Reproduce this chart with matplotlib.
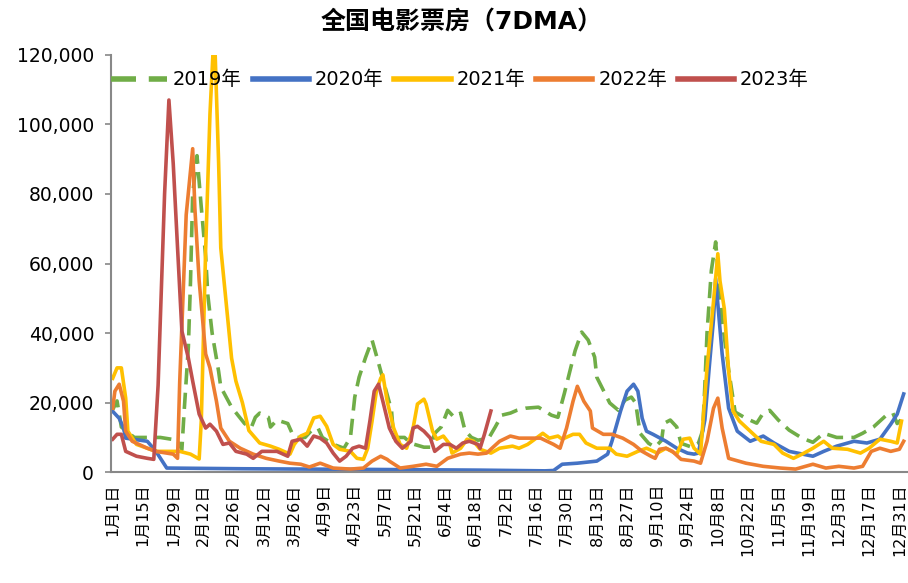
import matplotlib
matplotlib.use("Agg")
import matplotlib.pyplot as plt

plt.rcParams['font.family'] = ['DejaVu Sans', 'Noto Sans CJK SC']

# day index (0 = 1月1日) and 7DMA box office values
days_2019 = [0, 2, 4, 7, 10, 16, 22, 30, 32, 33, 35, 36, 37, 39, 41, 43, 44, 46, 49, 50,
             55, 61, 64, 66, 68, 70, 72, 73, 76, 79, 81, 83, 85, 89, 92, 95, 97, 99, 103, 107,
             110, 112, 114, 117, 120, 123, 126, 129, 130, 135, 138, 144, 147, 149, 152, 155, 158, 161, 163, 166,
             169, 174, 177, 180, 184, 187, 191, 197, 203, 206, 209, 212, 214, 217, 220, 223, 224, 227, 230, 234,
             237, 240, 242, 244, 248, 251, 254, 255, 258, 261, 263, 268, 271, 273, 274, 275, 277, 279, 282, 285,
             288, 293, 298, 301, 304, 308, 313, 319, 324, 329, 335, 343, 347, 352, 358, 361, 363, 366]
vals_2019 = [18000, 20500, 13000, 11500, 10000, 10000, 10000, 9200, 6500, 17000, 36000, 55000, 80000, 91000, 76000, 62000, 51000, 40000, 29000, 24500,
             18700, 14000, 12700, 15800, 17000, 16400, 15800, 13000, 15000, 14400, 14000, 11200, 10000, 10000, 12000, 12700, 10000, 9200, 7800, 6900,
             10000, 21600, 27300, 33000, 38000, 31400, 24500, 17800, 10000, 10000, 8300, 7200, 7200, 11200, 13000, 17800, 15800, 17000, 12000, 10000,
             9200, 9800, 13000, 16400, 17000, 17800, 18400, 18700, 16400, 15800, 22700, 30200, 35000, 40300, 38000, 33100, 27300, 23600, 19900, 17800,
             20700, 21600, 19900, 11200, 8300, 7200, 9200, 14000, 15000, 13000, 8300, 7200, 8300, 12000, 25000, 40000, 58000, 66200, 43700, 29400,
             17300, 15500, 14100, 17000, 17800, 15000, 12100, 9800, 8600, 11200, 10000, 10000, 11200, 13000, 16400, 17000, 14000, 15800]

days_2020 = [0, 3, 5, 6, 16, 20, 25, 60, 120, 170, 200, 204, 208, 215, 224, 229, 231, 235, 238, 241,
             243, 245, 247, 250, 256, 261, 266, 269, 271, 274, 276, 278, 279, 282, 285, 289, 295, 301, 306, 313,
             324, 329, 335, 343, 349, 355, 360, 363, 366]
vals_2020 = [17500, 15500, 12700, 9800, 8900, 6000, 1200, 1000, 800, 600, 400, 500, 2300, 2600, 3200, 5200, 8900, 17600, 23300, 25300,
             23300, 15500, 11800, 10900, 8900, 6900, 5500, 5200, 5500, 15000, 30000, 44000, 55600, 34000, 18400, 11800, 8900, 10400, 8400, 6000,
             4600, 6000, 7500, 8900, 8400, 9500, 13800, 16700, 22500]

days_2021 = [0, 2, 4, 6, 7, 11, 20, 31, 36, 40, 41, 43, 45, 47, 49, 50, 53, 55, 57, 60,
             63, 68, 73, 77, 82, 84, 87, 90, 93, 96, 99, 102, 105, 110, 113, 116, 118, 120, 122, 124,
             125, 127, 130, 133, 136, 139, 141, 144, 145, 148, 150, 153, 156, 157, 161, 164, 167, 170, 175, 179,
             185, 188, 192, 194, 199, 202, 206, 208, 213, 216, 219, 224, 230, 233, 238, 243, 247, 252, 256, 261,
             264, 267, 269, 272, 275, 278, 280, 281, 283, 285, 287, 290, 295, 300, 306, 310, 315, 319, 324, 329,
             333, 340, 346, 350, 355, 360, 363, 365]
vals_2021 = [27000, 30000, 30000, 21300, 11800, 8000, 6000, 6000, 5200, 3800, 15000, 64000, 103000, 128000, 89000, 64500, 45500, 32800, 26200, 20000,
             12000, 8400, 7500, 6600, 5200, 8000, 10400, 11200, 15600, 16100, 13200, 8000, 6600, 6000, 4000, 3700, 6900, 14700, 23300, 27000,
             28000, 20400, 12700, 8000, 6900, 12700, 19600, 21000, 19600, 11800, 9500, 10400, 8000, 5500, 6900, 9500, 8900, 6600, 5500, 6900,
             7500, 6900, 8000, 8900, 11200, 9800, 10400, 9500, 10900, 10900, 8400, 6900, 6900, 5200, 4600, 6000, 6900, 5500, 6900, 5200,
             9500, 9800, 6900, 5200, 30000, 49000, 62800, 55000, 47000, 29000, 17600, 14700, 11800, 8900, 8000, 5500, 4000, 5200, 6900, 8900,
             6900, 6600, 5500, 6900, 9500, 8900, 8400, 14700]

days_2022 = [0, 1, 3, 5, 6, 9, 16, 20, 28, 30, 31, 34, 37, 38, 40, 43, 45, 48, 50, 54,
             59, 65, 71, 77, 82, 87, 91, 96, 102, 110, 116, 120, 124, 127, 128, 133, 139, 145, 150, 155,
             161, 165, 169, 173, 179, 184, 188, 193, 198, 204, 207, 210, 213, 215, 218, 221, 222, 227, 231, 236,
             241, 245, 249, 251, 253, 256, 259, 263, 269, 272, 275, 278, 280, 282, 285, 293, 301, 309, 316, 324,
             330, 336, 343, 347, 351, 355, 360, 364, 366]
vals_2022 = [18400, 23300, 25300, 20400, 11800, 8900, 6900, 6000, 5200, 4000, 26000, 74000, 93000, 76000, 55000, 34000, 30000, 20400, 12700, 8900,
             6900, 5200, 4000, 3200, 2600, 2300, 1500, 2600, 1200, 900, 1200, 3200, 4600, 3700, 3200, 1200, 1700, 2300, 1700, 4000,
             5200, 5500, 5200, 5500, 8900, 10400, 9800, 9800, 9800, 8000, 6900, 12700, 20400, 24700, 20400, 17600, 12700, 10900, 10900, 9800,
             8000, 6000, 4600, 4000, 6600, 6900, 6000, 3700, 3200, 2600, 8900, 18400, 21300, 12700, 4000, 2600, 1700, 1200, 900, 2300,
             1200, 1700, 1200, 1700, 6000, 6900, 6000, 6600, 8900]

days_2023 = [0, 2, 4, 6, 11, 16, 19, 21, 24, 26, 28, 30, 32, 35, 37, 40, 43, 45, 48, 51,
             54, 57, 62, 65, 69, 76, 81, 83, 87, 90, 93, 96, 99, 102, 105, 108, 111, 114, 117, 119,
             121, 123, 125, 128, 131, 134, 138, 139, 141, 144, 147, 149, 153, 156, 159, 162, 165, 169, 170, 172,
             175]
vals_2023 = [9500, 10900, 10900, 6000, 4600, 4000, 3700, 25000, 80000, 107000, 88700, 64500, 40600, 32800, 26200, 16700, 12700, 13800, 11800, 8000,
             8400, 6000, 5200, 4000, 6000, 6000, 4600, 8900, 9500, 7500, 10400, 9800, 8400, 5500, 3200, 4600, 6900, 7500, 6900, 14700,
             23300, 25300, 20400, 12700, 8900, 6900, 8900, 12700, 13200, 11800, 9800, 6000, 8000, 8000, 6900, 8400, 8900, 8000, 6900, 10900,
             17600]

tick_days = list(range(0, 365, 14))
tick_labels = ['1月1日', '1月15日', '1月29日', '2月12日', '2月26日', '3月12日', '3月26日',
               '4月9日', '4月23日', '5月7日', '5月21日', '6月4日', '6月18日', '7月2日',
               '7月16日', '7月30日', '8月13日', '8月27日', '9月10日', '9月24日', '10月8日',
               '10月22日', '11月5日', '11月19日', '12月3日', '12月17日', '12月31日']

fig = plt.figure(figsize=(9.08, 5.83), dpi=100)
ax = fig.add_axes([0.122, 0.19, 0.878, 0.716])

lw = 2.6
ax.plot(days_2019, vals_2019, color='#70AD47', lw=lw, linestyle=(0, (4.5, 2.3)), label='2019年')
ax.plot(days_2020, vals_2020, color='#4472C4', lw=lw, label='2020年')
ax.plot(days_2021, vals_2021, color='#FFC000', lw=lw, label='2021年')
ax.plot(days_2022, vals_2022, color='#ED7D31', lw=lw, label='2022年')
ax.plot(days_2023, vals_2023, color='#C0504D', lw=lw, label='2023年')

ax.set_xlim(-0.9, 368)
ax.set_ylim(0, 120000)
ax.set_yticks(range(0, 120001, 20000))
ax.set_yticklabels(['{:,}'.format(v) for v in range(0, 120001, 20000)], fontsize=13.5)
ax.set_xticks(tick_days)
ax.set_xticklabels(tick_labels, rotation=90, fontsize=11.5, va='top')

for s in ['top', 'right']:
    ax.spines[s].set_visible(False)
for s in ['left', 'bottom']:
    ax.spines[s].set_color('#888888')
    ax.spines[s].set_linewidth(1.5)
ax.tick_params(axis='y', length=4, width=1.2, color='#888888', pad=8)
ax.tick_params(axis='x', length=0, pad=8)

leg = ax.legend(loc='center left', bbox_to_anchor=(0.0, 0.94), ncol=5, frameon=False,
                fontsize=14, handlelength=2.9, handletextpad=0.3, columnspacing=0.55,
                borderaxespad=0, borderpad=0)
for line in leg.get_lines():
    line.set_linewidth(4)

fig.text(0.509, 0.962, '全国电影票房（7DMA）', ha='center', va='center',
         fontsize=18, fontweight='bold')

fig.savefig('out.png', dpi=100)
